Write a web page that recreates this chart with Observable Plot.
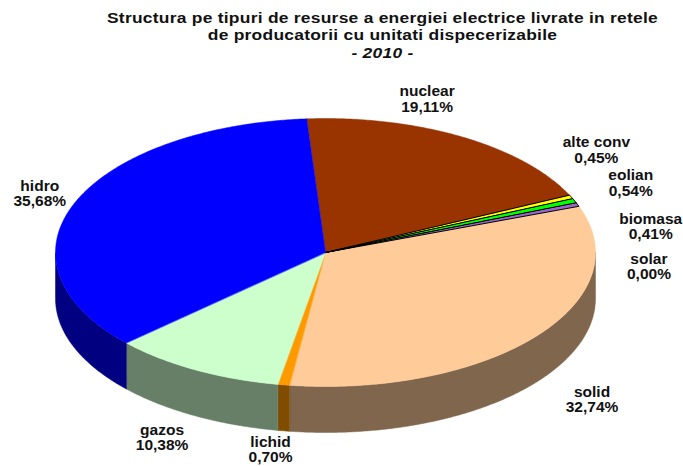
<!DOCTYPE html>
<html><head><meta charset="utf-8">
<script src="https://cdn.jsdelivr.net/npm/d3@7"></script>
<script src="https://cdn.jsdelivr.net/npm/@observablehq/plot@0.6"></script>
<style>
html,body{margin:0;padding:0;background:#fff;overflow:hidden}
#title{height:68px;box-sizing:border-box;padding-top:10px;width:765px;text-align:center;font:bold 14.5px/17.3px "Liberation Sans",Arial,sans-serif;letter-spacing:.22px;color:#111;transform:scaleX(1.2);transform-origin:382.5px 0}
#chart svg{display:block}
</style></head><body>
<div id="title">Structura pe tipuri de resurse a energiei electrice livrate in retele<br>de producatorii cu unitati dispecerizabile<br><i>- 2010 -</i></div>
<div id="chart"></div>
<script>
const names = ["nuclear","alte conv","eolian","biomasa","solar","solid","lichid","gazos","hidro"];
const shares = [19.11,0.45,0.54,0.41,0.00,32.74,0.70,10.38,35.68];
const labels = ["19,11%","0,45%","0,54%","0,41%","0,00%","32,74%","0,70%","10,38%","35,68%"];
const topColors = ["#993300","#ffff00","#00ff00","#9966cc","#ff00ff","#ffcc99","#ff9900","#ccffcc","#0000ff"];
const wallColors = ["#4d1a00","#808000","#008000","#4d3366","#800080","#7f664c","#7f4c00","#667f66","#000080"];
const thin = ["alte conv","eolian","biomasa"];

const startDeg = -4, depth = 46 / 134, total = d3.sum(shares);
const pt = (deg, drop = 0) => {
  const a = deg * Math.PI / 180;
  return {x: Math.sin(a), y: Math.cos(a) - drop};
};
const arc = (a, b, drop = 0) => {
  const n = Math.max(1, Math.ceil((b - a) / 0.5)), out = [];
  for (let i = 0; i <= n; ++i) out.push(pt(a + (b - a) * i / n, drop));
  return out;
};

let cum = startDeg;
const slices = names.map((name, i) => {
  const a = cum, b = cum + shares[i] / total * 360;
  cum = b;
  return {name, a, b, share: shares[i], label: labels[i], color: topColors[i], wall: wallColors[i]};
});

const tops = [], walls = [];
for (const s of slices) {
  if (s.share === 0) continue;
  arc(s.a, s.b).forEach(p => tops.push({...p, name: s.name, color: s.color}));
  tops.push({x: 0, y: 0, name: s.name, color: s.color});
  const a = Math.max(s.a, 90), b = Math.min(s.b, 270);
  if (b > a) {
    [...arc(a, b), ...arc(a, b, depth).reverse()].forEach(p => walls.push({...p, name: s.name, color: s.wall}));
  }
}

const nudges = {
  "nuclear": [-35,-38], "alte conv": [25,-47], "eolian": [56,-18], "biomasa": [73,22], "solar": [70,60],
  "solid": [56,63], "lichid": [-13,65], "gazos": [-33,68], "hidro": [-35,-9]
};
const labelMarks = slices.map(s => {
  const p = pt((s.a + s.b) / 2);
  return Plot.text([{...p, t: s.name + "\n" + s.label}], {
    x: "x", y: "y", text: "t", dx: nudges[s.name][0], dy: nudges[s.name][1],
    fontSize: 14, fontWeight: "bold", fill: "#111", lineHeight: 1.1,
    fontFamily: "'Liberation Sans',Arial,sans-serif", textAnchor: "middle", lineAnchor: "middle",
    style: {letterSpacing: "0.1px"}
  });
});

const isThin = d => thin.includes(d.name);
const chart = Plot.plot({
  width: 683, height: 398, margin: 0,
  x: {domain: [-1, 1], range: [55, 595], axis: null},
  y: {domain: [1, -1], range: [50, 318], axis: null},
  marks: [
    Plot.line(walls, {x: "x", y: "y", z: "name", fill: "color", stroke: "color", strokeWidth: 0.5, curve: "linear-closed"}),
    Plot.line(tops.filter(d => !isThin(d)), {x: "x", y: "y", z: "name", fill: "color", stroke: "color", strokeWidth: 0.5, curve: "linear-closed"}),
    Plot.line(tops.filter(isThin), {x: "x", y: "y", z: "name", fill: "color", stroke: "#000", strokeWidth: 1, curve: "linear-closed"}),
    ...labelMarks
  ]
});
document.getElementById("chart").append(chart);
chart.querySelectorAll("text").forEach(t => {
  const tr = t.getAttribute("transform");
  if (tr) t.setAttribute("transform", tr + " scale(1.11,1)");
});
</script>
</body></html>
